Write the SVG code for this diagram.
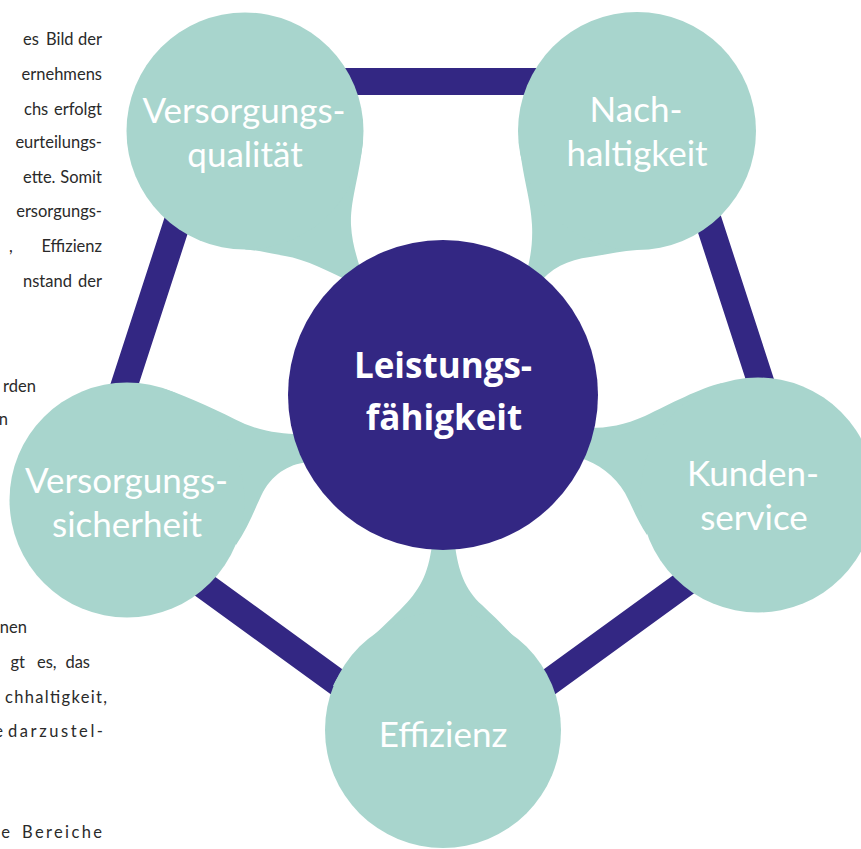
<svg xmlns="http://www.w3.org/2000/svg" width="861" height="849" viewBox="0 0 861 849">
<style>
.body{font-family:Lato,"Liberation Sans",sans-serif;font-size:16.5px;fill:#2a2a2a}
.edge{stroke:#332783;stroke-width:27;fill:none;stroke-linecap:round}
.petal{fill:#a8d5cd}
.lbl{font-family:Lato,"Open Sans",sans-serif;font-size:35px;fill:#ffffff;text-anchor:middle}
.hub{fill:#332783}
.hublbl{font-family:"Open Sans",Lato,sans-serif;font-weight:bold;font-size:35px;fill:#ffffff;text-anchor:middle}
.e{text-anchor:end}
</style>
<rect width="861" height="849" fill="#ffffff"/>
<g id="body-text" class="body">
<text x="23" y="45">es</text><text x="46" y="45">Bild</text><text class="e" x="102" y="45">der</text>
<text class="e" x="102" y="80">ernehmens</text>
<text x="24" y="115">chs</text><text class="e" x="102" y="115">erfolgt</text>
<text class="e" x="102" y="148">eurteilungs-</text>
<text x="23" y="183">ette.</text><text class="e" x="102" y="183">Somit</text>
<text class="e" x="102" y="217">ersorgungs-</text>
<text x="9" y="252">,</text><text class="e" x="102" y="252">Effizienz</text>
<text x="23" y="287">nstand</text><text class="e" x="102" y="287">der</text>
<text x="3" y="392">rden</text>
<text class="e" x="8" y="425">n</text>
<text class="e" x="27" y="633">nen</text>
<text class="e" x="25" y="668">gt</text><text x="37" y="668">es,</text><text class="e" x="90" y="668">das</text>
<text x="5" y="703" textLength="102" lengthAdjust="spacing">chhaltigkeit,</text>
<text class="e" x="3" y="737">e</text><text x="8" y="737" textLength="95" lengthAdjust="spacing">darzustel-</text>
<text class="e" x="10" y="838">e</text><text x="22" y="838" textLength="80" lengthAdjust="spacing">Bereiche</text>
</g>
<g id="connectors">
<line class="edge" x1="222.9" y1="81.6" x2="663.1" y2="81.6"/>
<line class="edge" x1="663.1" y1="81.6" x2="799.2" y2="500.3"/>
<line class="edge" x1="799.2" y1="500.3" x2="443" y2="759.1"/>
<line class="edge" x1="443" y1="759.1" x2="86.8" y2="500.3"/>
<line class="edge" x1="86.8" y1="500.3" x2="222.9" y2="81.6"/>
</g>
<g id="node-versorgungsqualitaet">
<path class="petal" d="M 363,140 C 360,175 350,200 351,225 C 352,245 358,260 363,278 L 349,281 C 330,272 305,259 285,256 C 268,253 256,250 245,249.5 Z"/>
<circle class="petal" cx="245" cy="131" r="118.5"/>
<text class="lbl" x="244" y="123">Versorgungs-</text>
<text class="lbl" x="245" y="167">qualität</text>
</g>
<g id="node-nachhaltigkeit">
<path class="petal" d="M 519,140 C 522,175 531,200 532,225 C 533,245 530,262 524,282 L 538,285 C 550,268 568,260 590,257 C 605,255 620,251 637,250 Z"/>
<circle class="petal" cx="637" cy="131" r="119"/>
<text class="lbl" x="636" y="122">Nach-</text>
<text class="lbl" x="637" y="166">haltigkeit</text>
</g>
<g id="node-versorgungssicherheit">
<path class="petal" d="M 165,389 C 190,397 220,412 245,424 C 265,432 283,434 300,434 L 310,462 C 292,463 274,472 263,492 C 256,506 248,528 236,545 Z"/>
<circle class="petal" cx="127" cy="500" r="117.5"/>
<text class="lbl" x="126.5" y="493">Versorgungs-</text>
<text class="lbl" x="127" y="537">sicherheit</text>
</g>
<g id="node-kundenservice">
<path class="petal" d="M 722,383 C 700,388 670,404 645,416 C 625,425 607,428 590,428 L 580,458 C 598,463 615,476 625,493 C 632,506 638,522 647,535 Z"/>
<circle class="petal" cx="758" cy="495" r="117.5"/>
<text class="lbl" x="753" y="486">Kunden-</text>
<text class="lbl" x="754" y="530">service</text>
</g>
<g id="node-effizienz">
<path class="petal" d="M 333,686 C 345,660 380,630 400,610 C 420,590 428,575 432,545 L 455,545 C 458,570 465,590 482,605 C 505,627 535,655 553,690 Z"/>
<circle class="petal" cx="443" cy="730" r="118"/>
<text class="lbl" x="443" y="747">Effizienz</text>
</g>
<g id="node-leistungsfaehigkeit">
<circle class="hub" cx="443" cy="395" r="155"/>
<text class="hublbl" x="443" y="378">Leistungs-</text>
<text class="hublbl" x="444" y="430">fähigkeit</text>
</g>
</svg>
